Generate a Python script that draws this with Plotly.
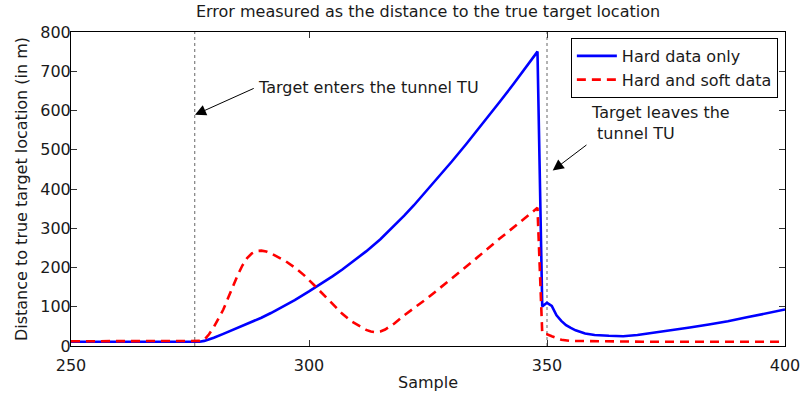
import plotly.graph_objects as go

# Hard data only (blue)
hard_x = [250, 255, 260, 265, 270, 275, 277, 278, 280, 282, 285, 287, 290, 292, 295, 297,
          300, 302, 305, 307, 310, 312, 315, 317, 320, 322, 325, 328, 330, 333, 335,
          338, 340, 343, 345, 348, 349, 350, 351, 352, 353, 354, 355, 356, 358, 360,
          363, 366, 369, 372, 376, 380, 384, 388, 392, 396, 400]
hard_y = [11, 11, 12, 12, 11, 11, 11, 13, 21, 31, 46, 56, 72, 84, 103, 117,
          139, 154, 178, 195, 222, 241, 272, 295, 332, 358, 399, 441, 470, 514, 544,
          590, 621, 668, 702, 750, 101, 110, 102, 78, 64, 53, 46, 40, 32, 28,
          26, 25, 28, 33, 39, 47, 55, 63, 73, 83, 93]

# Hard and soft data (red dashed)
soft_x = [250, 255, 260, 265, 270, 275, 277, 278, 279, 280, 281, 282, 283, 284, 285,
          286, 287, 288, 289, 290, 291, 292, 293, 295, 297, 299, 301, 303, 305, 307,
          309, 311, 312, 313, 314, 315, 316, 318, 320, 325, 330, 335, 340, 345, 348,
          349, 350, 351, 352, 353, 355, 360, 370, 380, 390, 400]
soft_y = [12, 12, 12, 12, 12, 12, 13, 16, 30, 48, 70, 93, 122, 152, 180,
          205, 224, 236, 242, 243, 241, 236, 230, 217, 200, 180, 156, 132, 106, 82,
          62, 47, 41, 37, 35, 37, 42, 58, 78, 123, 172, 222, 273, 322, 352,
          33, 30, 25, 20, 16, 13, 12, 11, 11, 11, 11]

# Tunnel entry / exit samples
tunnel_marks = [276, 350]

FONT = "DejaVu Sans"
TXT = "#1a1a1a"

fig = go.Figure()
fig.add_trace(go.Scatter(x=hard_x, y=hard_y, mode="lines", name="Hard data only",
                         line=dict(color="#0000ff", width=2.6)))
fig.add_trace(go.Scatter(x=soft_x, y=soft_y, mode="lines", name="Hard and soft data",
                         line=dict(color="#ff0000", width=2.6, dash="9px,6px")))

for xm in tunnel_marks:
    fig.add_shape(type="line", x0=xm, x1=xm, y0=0, y1=800, xref="x", yref="y",
                  line=dict(color="#666666", width=1, dash="dot"), layer="below")

# Arrows
fig.add_annotation(x=276.05, y=589, ax=288.7, ay=658, axref="x", ayref="y",
                   xref="x", yref="y", text="", showarrow=True,
                   arrowhead=2, arrowsize=2.2, arrowwidth=1, arrowcolor="black")
fig.add_annotation(x=351.2, y=447, ax=358.6, ay=515, axref="x", ayref="y",
                   xref="x", yref="y", text="", showarrow=True,
                   arrowhead=2, arrowsize=2.2, arrowwidth=1, arrowcolor="black")

# Labels
fig.add_annotation(x=288.9, y=658, xref="x", yref="y", text="Target enters the tunnel TU",
                   showarrow=False, xanchor="left", yanchor="middle",
                   font=dict(family=FONT, size=16, color=TXT))
fig.add_annotation(x=358.8, y=568, xref="x", yref="y",
                   text="Target leaves the<br>\u00a0tunnel TU", align="left",
                   showarrow=False, xanchor="left", yanchor="middle",
                   font=dict(family=FONT, size=16, color=TXT))

axis_common = dict(showline=True, linecolor="black", linewidth=1, mirror="ticks",
                   ticks="inside", ticklen=6, tickcolor="#333333", showgrid=False,
                   zeroline=False, automargin=False,
                   tickfont=dict(family=FONT, size=16, color=TXT))

fig.update_xaxes(range=[250, 400], tick0=250, dtick=50, ticklabelstandoff=5,
                 title=dict(text="Sample", font=dict(family=FONT, size=16, color=TXT), standoff=2),
                 **axis_common)
fig.update_yaxes(range=[0, 800], tick0=0, dtick=100, ticklabelstandoff=-4,
                 title=dict(text="Distance to true target location (in m)",
                            font=dict(family=FONT, size=16, color=TXT), standoff=8),
                 **axis_common)

fig.update_layout(
    width=803, height=396,
    margin=dict(l=71, r=18, t=32, b=50),
    paper_bgcolor="white", plot_bgcolor="white",
    title=dict(text="Error measured as the distance to the true target location",
               x=0.533, xanchor="center", y=0.972, yanchor="middle", yref="container",
               font=dict(family=FONT, size=16, color=TXT)),
    legend=dict(x=0.99, xanchor="right", y=0.981, yanchor="top",
                bgcolor="white", bordercolor="black", borderwidth=1, itemwidth=40,
                font=dict(family=FONT, size=16, color=TXT), tracegroupgap=0),
    showlegend=True,
)

fig.write_html("out.html")
